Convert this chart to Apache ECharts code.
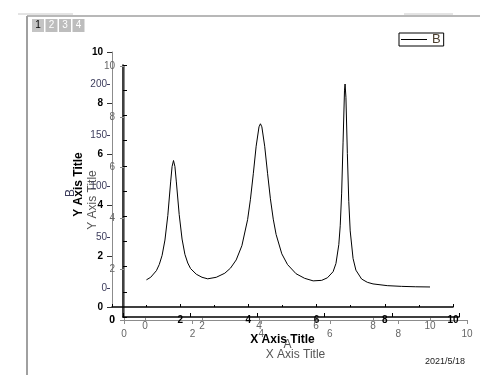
<!DOCTYPE html>
<html><head><meta charset="utf-8">
<script src="https://cdn.jsdelivr.net/npm/echarts@6/dist/echarts.min.js"></script>
<style>html,body{margin:0;padding:0;background:#fff}#c{width:500px;height:375px}</style>
</head><body><div id="c"></div>
<script>
// ---- data ----
const xValues = [0.05, 0.2, 0.4, 0.5, 0.6, 0.7, 0.8, 0.9, 0.95, 1.0, 1.05, 1.1, 1.2, 1.3, 1.4, 1.5, 1.6, 1.8, 2.0, 2.2, 2.5, 2.8, 3.0, 3.2, 3.4, 3.6, 3.7, 3.8, 3.9, 4.0, 4.05, 4.1, 4.2, 4.3, 4.4, 4.5, 4.6, 4.8, 5.0, 5.3, 5.6, 5.9, 6.2, 6.4, 6.6, 6.7, 6.8, 6.85, 6.9, 6.95, 7.0, 7.02, 7.05, 7.1, 7.15, 7.2, 7.3, 7.4, 7.6, 7.8, 8.0, 8.5, 9.0, 9.5, 10.0];
const yValuesB = [8, 10.5, 17, 23, 32, 47, 71, 104, 119, 125, 119, 104, 72, 48, 33, 24.5, 19, 13.5, 10.5, 9, 10.5, 14.5, 19.5, 27.5, 41.5, 67, 87, 112, 139, 158, 161, 158, 139, 112.5, 87.5, 67.5, 52.5, 33.5, 23, 14, 9.5, 7, 7.5, 10, 16, 24, 42.5, 61, 93, 143, 194, 200, 187, 132, 85, 56, 29, 17.5, 8.8, 5.6, 4, 2.3, 1.6, 1.2, 1];
const ticks010 = [0, 2, 4, 6, 8, 10];
const ticksB = [0, 50, 100, 150, 200];
const seriesName = 'B';
const xTitle = 'X Axis Title';
const yTitle = 'Y Axis Title';
const dataXName = 'A';
const dateText = '2021/5/18';
const pageTabs = ['1', '2', '3', '4'];

const F = '"Liberation Sans", Arial, sans-serif';
const gray = '#8c8c8c';
const grayText = '#666';
const navy = '#3c3c5c';
const pts = xValues.map((x, i) => [x, yValuesB[i]]);
const mn = a => a[0], mx = a => a[a.length - 1], st = a => a[1] - a[0];
const hiddenX = (g, t) => ({gridIndex: g, type: 'value', min: mn(t), max: mx(t), show: false});

const chart = echarts.init(document.getElementById('c'), null, {renderer: 'canvas'});
const option = {
  animation: false,
  backgroundColor: '#fff',
  grid: [
    {left: 112, right: 47, top: 52, bottom: 68},   // 0 bold layer
    {left: 124, right: 33, top: 66, bottom: 55},   // 1 gray layer
    {left: 123, right: 41, top: 65, bottom: 58},   // 2 black frame
    {left: 145, right: 70, top: 84, bottom: 87},   // 3 data
    {left: 110, right: 70, top: 84, bottom: 87},   // 4 data Y axis (B)
    {left: 145, right: 70, top: 84, bottom: 57}    // 5 data X axis (A)
  ],
  xAxis: [
    {gridIndex: 0, type: 'value', min: mn(ticks010), max: mx(ticks010), interval: st(ticks010),
      axisLine: {lineStyle: {color: '#000', width: 1.5}},
      axisTick: {inside: true, length: 3, lineStyle: {color: '#000'}},
      minorTick: {show: true, splitNumber: 2, length: 2, lineStyle: {color: '#000'}},
      splitLine: {show: false},
      axisLabel: {color: '#000', fontWeight: 'bold', fontSize: 10, fontFamily: F, margin: 8},
      name: xTitle, nameLocation: 'middle', nameGap: 27, nameMoveOverlap: false,
      nameTextStyle: {color: '#000', fontWeight: 'bold', fontSize: 12, fontFamily: F}},
    {gridIndex: 1, type: 'value', min: mn(ticks010), max: mx(ticks010), interval: st(ticks010),
      axisLine: {lineStyle: {color: gray, width: 1}},
      axisTick: {length: 4, lineStyle: {color: gray}},
      splitLine: {show: false},
      axisLabel: {color: grayText, fontSize: 10, fontFamily: F, margin: 9},
      name: xTitle, nameLocation: 'middle', nameGap: 29, nameMoveOverlap: false,
      nameTextStyle: {color: '#555', fontSize: 12, fontFamily: F}},
    {gridIndex: 2, type: 'value', min: 0, max: 10, interval: 2,
      axisLine: {lineStyle: {color: '#000', width: 1.5}},
      axisTick: {inside: true, length: 4, lineStyle: {color: '#000'}},
      splitLine: {show: false}, axisLabel: {show: false}},
    hiddenX(3, ticks010),
    hiddenX(4, ticks010),
    {gridIndex: 5, type: 'value', min: mn(ticks010), max: mx(ticks010), interval: st(ticks010),
      axisLine: {show: false},
      axisTick: {show: true, length: 3, lineStyle: {color: gray}},
      splitLine: {show: false},
      axisLabel: {color: grayText, fontSize: 10, fontFamily: F, margin: 3},
      name: dataXName, nameLocation: 'middle', nameGap: 21, nameMoveOverlap: false,
      nameTextStyle: {color: '#555', fontSize: 12, fontFamily: F}}
  ],
  yAxis: [
    {gridIndex: 0, type: 'value', min: mn(ticks010), max: mx(ticks010), interval: st(ticks010),
      axisLine: {show: true, lineStyle: {color: gray, width: 1}},
      axisTick: {show: true, length: 5, lineStyle: {color: '#333'}},
      splitLine: {show: false},
      axisLabel: {color: '#000', fontWeight: 'bold', fontSize: 10, fontFamily: F, margin: 9},
      name: yTitle, nameLocation: 'middle', nameGap: 27, nameMoveOverlap: false,
      nameTextStyle: {color: '#000', fontWeight: 'bold', fontSize: 12, fontFamily: F, padding: [0, 10, 0, 0]}},
    {gridIndex: 1, type: 'value', min: mn(ticks010), max: mx(ticks010), interval: st(ticks010), offset: 7,
      axisLine: {show: true, lineStyle: {color: gray, width: 1}},
      axisTick: {show: true, length: 4, lineStyle: {color: gray}},
      splitLine: {show: false},
      axisLabel: {color: grayText, fontSize: 10, fontFamily: F, margin: 2},
      name: yTitle, nameLocation: 'middle', nameGap: 18, nameMoveOverlap: false,
      nameTextStyle: {color: '#555', fontSize: 12, fontFamily: F, padding: [0, 14, 0, 0]}},
    {gridIndex: 2, type: 'value', min: 0, max: 10, interval: 1,
      axisLine: {show: true, lineStyle: {color: '#000', width: 1.5}},
      axisTick: {show: true, inside: true, length: 4, lineStyle: {color: '#000'}},
      splitLine: {show: false}, axisLabel: {show: false}},
    {gridIndex: 3, type: 'value', min: mn(ticksB), max: mx(ticksB), show: false},
    {gridIndex: 4, type: 'value', min: mn(ticksB), max: mx(ticksB), interval: st(ticksB),
      axisLine: {show: false},
      axisTick: {show: true, length: 3, lineStyle: {color: navy}},
      splitLine: {show: false},
      axisLabel: {color: navy, fontSize: 10, fontFamily: F, margin: 3},
      name: seriesName, nameLocation: 'middle', nameGap: 33, nameMoveOverlap: false,
      nameTextStyle: {color: navy, fontSize: 12, fontFamily: F, padding: [0, 14, 0, 0]}},
    {gridIndex: 5, type: 'value', min: mn(ticksB), max: mx(ticksB), show: false}
  ],
  legend: {
    left: 399, top: 33, orient: 'horizontal',
    borderColor: '#000', borderWidth: 1, borderRadius: 0,
    padding: [0, 3, 0, 2], itemWidth: 26, itemHeight: 12, itemGap: 4,
    textStyle: {color: '#4d4030', fontSize: 13, fontFamily: F, padding: [0, 0, 0, 0]},
    data: [{name: seriesName, icon: 'path://M0,5 L26,5 L26,6 L0,6 Z'}]
  },
  series: [{
    type: 'line', name: seriesName, xAxisIndex: 3, yAxisIndex: 3,
    data: pts, symbol: 'none', smooth: false,
    lineStyle: {color: '#000', width: 1}, itemStyle: {color: '#000'}
  }],
  graphic: [
    {type: 'line', shape: {x1: 18, y1: 14, x2: 73, y2: 14}, style: {stroke: '#c8c8c8', lineWidth: 1}},
    {type: 'line', shape: {x1: 27, y1: 16, x2: 480, y2: 16}, style: {stroke: '#a0a0a0', lineWidth: 1.5}},
    {type: 'line', shape: {x1: 27, y1: 16, x2: 27, y2: 375}, style: {stroke: '#a0a0a0', lineWidth: 2}},
    {type: 'line', shape: {x1: 404, y1: 14, x2: 453, y2: 14}, style: {stroke: '#c8c8c8', lineWidth: 1}},
    ...pageTabs.map((t, i) => ({
      type: 'group', left: 32 + i * 13.5, top: 19,
      children: [
        {type: 'rect', shape: {x: 0, y: 0, width: 12, height: 13}, style: {fill: i === 0 ? '#c4c4c4' : '#bdbdbd'}},
        {type: 'text', x: 6, y: 6.5, style: {text: t, fill: i === 0 ? '#000' : '#fff', font: '10px ' + F, textAlign: 'center', textVerticalAlign: 'middle'}}
      ]
    })),
    {type: 'text', left: 425, top: 357, style: {text: dateText, fill: '#222', font: '9px ' + F}}
  ]
};
chart.setOption(option);
</script></body></html>
